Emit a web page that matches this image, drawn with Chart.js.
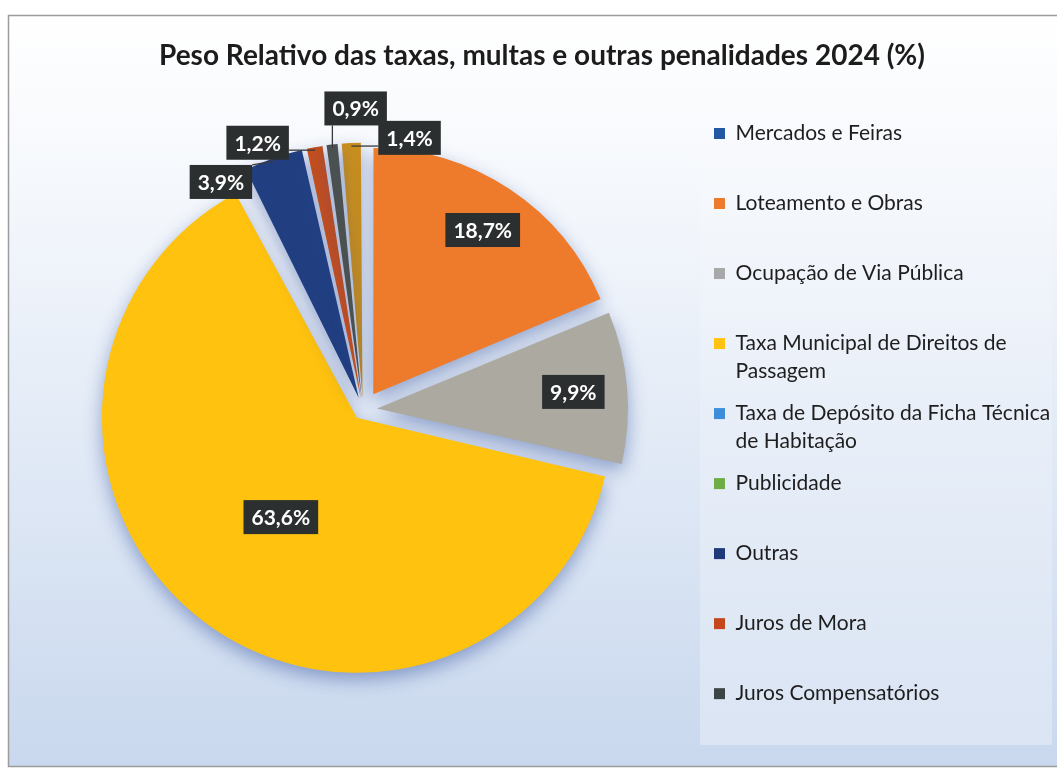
<!DOCTYPE html>
<html>
<head>
<meta charset="utf-8">
<script src="https://cdn.jsdelivr.net/npm/chart.js@4.4.1/dist/chart.umd.min.js"></script>
<style>
html,body{margin:0;padding:0;background:#fff;}
#wrap{width:1057px;height:770px;position:relative;}
</style>
</head>
<body>
<div id="wrap"><canvas id="c"></canvas></div>
<script>
// ---- data ----
const chartTitle = 'Peso Relativo das taxas, multas e outras penalidades 2024 (%)';
const categories = [
  'Mercados e Feiras',
  'Loteamento e Obras',
  'Ocupação de Via Pública',
  'Taxa Municipal de Direitos de Passagem',
  'Taxa de Depósito da Ficha Técnica de Habitação',
  'Publicidade',
  'Outras',
  'Juros de Mora',
  'Juros Compensatórios'
];
const shares = [1.4, 18.7, 9.9, 63.6, 0.2, 0.2, 3.9, 1.2, 0.9];
const labelled = [true, true, true, true, false, false, true, true, true];

// ---- styles ----
const sliceColors  = ['#C98F1E', '#EE7B2C', '#ABA9A0', '#FFC20E', '#3D8FDB', '#6EAD45', '#213F80', '#C44E1E', '#4B5150'];
const legendColors = ['#2456A6', '#EE7B2C', '#A8A8A8', '#FFC20E', '#3A8EDC', '#6EAD45', '#1F3A78', '#C5461C', '#3E4444'];
const explodePx    = [22, 20, 20, 20, 20, 20, 22, 22, 22];
// inside labels: fraction of radius along slice middle; outside: position relative to centre in radius units
const labelPlacement = [
  {out: [0.19, -1.11]}, {r: 0.80}, {r: 0.78}, {r: 0.47}, null, null,
  {out: [-0.58, -0.93]}, {out: [-0.43, -1.09]}, {out: [-0.03, -1.23]}
];

const total = shares.reduce((a, b) => a + b, 0);
const shiftFactor = c => (2 - Math.sin(Math.min(Math.PI, c))) / 4;
const fmtPct = v => v.toFixed(1).replace('.', ',') + '%';

function wrapText(ctx, text, maxW) {
  const words = text.split(' ');
  const lines = [];
  let cur = '';
  for (const w of words) {
    const t = cur ? cur + ' ' + w : w;
    if (cur && ctx.measureText(t).width > maxW) { lines.push(cur); cur = w; }
    else cur = t;
  }
  lines.push(cur);
  return lines;
}

const backgroundPlugin = {
  id: 'bg',
  beforeDraw(chart) {
    const c = chart.ctx;
    c.save();
    c.fillStyle = '#ffffff';
    c.fillRect(0, 0, chart.width, chart.height);
    const g = c.createLinearGradient(0, 15, 0, 767);
    g.addColorStop(0, '#ffffff');
    g.addColorStop(0.3, '#f1f5fb');
    g.addColorStop(1, '#c9d8ee');
    c.fillStyle = g;
    c.fillRect(8, 15, chart.width - 8, 752);
    const g2 = c.createLinearGradient(0, 95, 0, 745);
    g2.addColorStop(0, 'rgba(255,255,255,0.05)');
    g2.addColorStop(1, 'rgba(255,255,255,0.3)');
    c.fillStyle = g2;
    c.fillRect(700, 95, 352, 650);
    c.strokeStyle = '#9c9c9c';
    c.lineWidth = 1.5;
    c.strokeRect(8.5, 15.5, chart.width + 5, 751);
    c.restore();
  }
};

const labelPlugin = {
  id: 'sliceLabels',
  beforeDatasetsDraw(chart) {
    const c = chart.ctx;
    c.save();
    c.shadowColor = 'rgba(40,70,150,0.45)';
    c.shadowBlur = 18;
    c.shadowOffsetX = 0;
    c.shadowOffsetY = 7;
  },
  afterDatasetsDraw(chart) {
    const c = chart.ctx;
    c.restore();
    const meta = chart.getDatasetMeta(0);
    meta.data.forEach((arc, i) => {
      const pl = labelPlacement[i];
      if (!pl || !labelled[i]) return;
      const p = arc.getProps(['x', 'y', 'startAngle', 'endAngle', 'outerRadius', 'circumference'], true);
      const mid = (p.startAngle + p.endAngle) / 2;
      const shift = (arc.options.offset || 0) * shiftFactor(p.circumference);
      const ax = p.x + Math.cos(mid) * shift, ay = p.y + Math.sin(mid) * shift;
      const r = p.outerRadius;
      let lx, ly, lead = null;
      if (pl.r !== undefined) {
        lx = ax + Math.cos(mid) * r * pl.r;
        ly = ay + Math.sin(mid) * r * pl.r;
      } else {
        lx = p.x + pl.out[0] * r;
        ly = p.y + pl.out[1] * r;
        lead = [ax + Math.cos(mid) * (r - 3), ay + Math.sin(mid) * (r - 3)];
      }
      const text = fmtPct(shares[i]);
      c.save();
      c.font = 'bold 21px Lato';
      const w = c.measureText(text).width + 16, h = 34;
      if (lead) {
        const bx = Math.max(lx - w / 2, Math.min(lx + w / 2, lead[0]));
        const by = Math.max(ly - h / 2, Math.min(ly + h / 2, lead[1]));
        c.strokeStyle = '#3a3a3a';
        c.lineWidth = 1.3;
        c.beginPath();
        c.moveTo(bx, by);
        c.lineTo(lead[0], lead[1]);
        c.stroke();
      }
      c.fillStyle = '#2B2F2F';
      c.fillRect(lx - w / 2, ly - h / 2, w, h);
      c.fillStyle = '#ffffff';
      c.textAlign = 'center';
      c.textBaseline = 'middle';
      c.fillText(text, lx, ly + 1);
      c.restore();
    });
  }
};

Chart.defaults.font.family = 'Lato';

new Chart(document.getElementById('c'), {
  type: 'pie',
  data: {
    labels: categories,
    datasets: [{
      data: shares,
      backgroundColor: sliceColors,
      borderWidth: 0,
      offset: ctx => {
        const c = shares[ctx.dataIndex] / total * 2 * Math.PI;
        return explodePx[ctx.dataIndex] / shiftFactor(c);
      }
    }]
  },
  options: {
    responsive: true,
    maintainAspectRatio: false,
    animation: false,
    events: [],
    rotation: -360 * shares[0] / total,
    radius: 245,
    layout: { padding: { left: 27, right: 0, top: 15, bottom: 10 } },
    plugins: {
      title: {
        display: true,
        text: chartTitle,
        color: '#1c1c1c',
        font: { family: 'Lato', size: 28, weight: 'bold', lineHeight: 1.2 },
        padding: { top: 24, bottom: 34 }
      },
      subtitle: {
        display: true,
        text: ' ',
        position: 'bottom',
        fullSize: false,
        font: { size: 10, lineHeight: 1 },
        padding: { top: 18, bottom: 19 }
      },
      legend: {
        display: true,
        position: 'right',
        align: 'start',
        maxWidth: 358,
        title: {
          display: true,
          text: ' ',
          font: { size: 10, lineHeight: 1 },
          padding: { top: 83, bottom: 0 }
        },
        labels: {
          color: '#1e1e1e',
          boxWidth: 11,
          boxHeight: 11,
          padding: 15,
          font: { family: 'Lato', size: 21, lineHeight: 1.31 },
          generateLabels(chart) {
            const ctx = chart.ctx;
            ctx.save();
            ctx.font = '21px Lato';
            const items = chart.data.labels.map((lab, i) => {
              const lines = wrapText(ctx, lab, 335);
              while (lines.length < 2) lines.push('');
              return {
                text: lines,
                fillStyle: legendColors[i],
                strokeStyle: legendColors[i],
                lineWidth: 0,
                hidden: false,
                index: i,
                fontColor: '#1e1e1e'
              };
            });
            ctx.restore();
            return items;
          }
        }
      },
      tooltip: { enabled: false }
    }
  },
  plugins: [backgroundPlugin, labelPlugin]
});
</script>
</body>
</html>
